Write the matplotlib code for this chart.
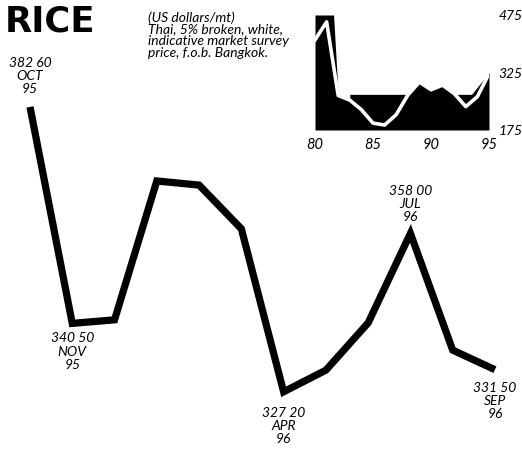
import numpy as np
import matplotlib
matplotlib.use('Agg')
import matplotlib.pyplot as plt

# --- Datos: precio mensual del arroz (US$/t) ---
meses   = ['OCT', 'NOV', 'DEC', 'JAN', 'FEB', 'MAR', 'APR', 'MAY', 'JUN', 'JUL', 'AUG', 'SEP']
anios   = ['95', '95', '95', '96', '96', '96', '96', '96', '96', '96', '96', '96']
precios = [382.6, 340.5, 341.2, 368.2, 367.4, 358.9, 327.2, 331.4, 340.6, 358.0, 335.3, 331.5]
etiquetas_precio = {0: '382 60', 1: '340 50', 6: '327 20', 9: '358 00', 11: '331 50'}

# --- Datos del recuadro: serie anual 1980-95 ---
anios_hist   = [80, 81, 82, 83, 84, 85, 86, 87, 88, 89, 90, 91, 92, 93, 94, 95]
precios_hist = [410, 457, 265, 253, 228, 193, 188, 215, 266, 300, 280, 292, 270, 236, 262, 322]
sombra_x     = [80, 81.6, 82, 83, 83, 88, 89, 90, 91, 92, 93.5, 95]
sombra_y     = [475, 475, 265, 253, 268, 268, 300, 280, 292, 268, 268, 325]

nota = ('(US dollars/mt)\nThai, 5% broken, white,\n'
        'indicative market survey\nprice, f.o.b. Bangkok.')

W, H = 522, 454
fig = plt.figure(figsize=(W / 100, H / 100), dpi=100)

# --- Gráfica principal ---
ax = fig.add_axes([0, 0, 1, 1])
ax.axis('off')
x = np.arange(len(precios))
ax.plot(x, precios, color='black', linewidth=5.2,
        solid_joinstyle='miter', solid_capstyle='butt')
ax.set_xlim(-0.71, 11.64)
ax.set_ylim(315.1, 403.4)

# Etiquetas de los puntos (encima o debajo según el punto)
arriba = {0: 12, 9: 10}
abajo  = {1: 9, 6: 15, 11: 12}
for i, txt in etiquetas_precio.items():
    s = f'{txt}\n{meses[i]}\n{anios[i]}'
    if i in arriba:
        ax.annotate(s, (x[i], precios[i]), xytext=(0, arriba[i]),
                    textcoords='offset pixels', ha='center', va='bottom',
                    fontsize=10, style='italic', family='Lato', linespacing=1.12)
    else:
        ax.annotate(s, (x[i], precios[i]), xytext=(0, -abajo[i]),
                    textcoords='offset pixels', ha='center', va='top',
                    fontsize=10, style='italic', family='Lato', linespacing=1.12)

# Título y nota
fig.text(5 / W, 1 - 5 / H, 'RICE', fontsize=25.5, fontweight='bold',
         family='DejaVu Sans', ha='left', va='top')
fig.text(148 / W, 1 - 11 / H, nota, fontsize=10, style='italic',
         family='Lato', ha='left', va='top', linespacing=0.98)

# --- Recuadro 1980-95 ---
axi = fig.add_axes([315 / W, 1 - 130 / H, 174 / W, 115 / H])
axi.fill_between(sombra_x, 175, sombra_y, color='black', linewidth=0)
axi.plot(anios_hist, precios_hist, color='white', linewidth=2.6,
         solid_joinstyle='round')
axi.set_xlim(80, 95)
axi.set_ylim(175, 475)
axi.set_xticks([80, 85, 90, 95])
axi.set_yticks([175, 325, 475])
axi.yaxis.tick_right()
axi.tick_params(length=0, labelsize=10.5, pad=6)
axi.tick_params(axis='y', pad=7, labelsize=10)
for lab in axi.get_xticklabels() + axi.get_yticklabels():
    lab.set_fontstyle('italic')
    lab.set_family('Lato')
for sp in axi.spines.values():
    sp.set_visible(False)
axi.patch.set_alpha(0)

fig.savefig('out.png', dpi=100)
plt.close()
